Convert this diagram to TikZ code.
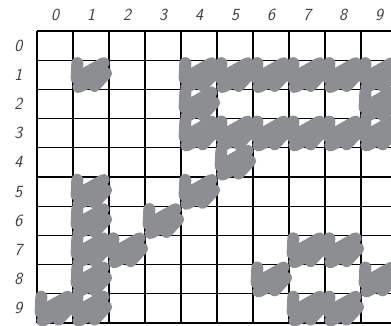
\documentclass[tikz,border=0pt]{standalone}
\usepackage{tikz}

\begin{document}
\begin{tikzpicture}[x=36pt, y=-29.2pt,
  gridline/.style={black, line width=1.3pt},
  scribble/.style={draw={rgb,255:red,141;green,142;blue,145}, line width=12pt, line cap=round, line join=round},
  digit/.style={text=black!75, font=\fontsize{17}{17}\selectfont\sffamily\itshape}]
\path[use as bounding box] (-1.028,-1.062) rectangle (9.833,10.07);
% grid
\draw[gridline] (0,0) -- (0,10);
\draw[gridline] (1,0) -- (1,10);
\draw[gridline] (2,0) -- (2,10);
\draw[gridline] (3,0) -- (3,10);
\draw[gridline] (4,0) -- (4,10);
\draw[gridline] (5,0) -- (5,10);
\draw[gridline] (6,0) -- (6,10);
\draw[gridline] (7,0) -- (7,10);
\draw[gridline] (8,0) -- (8,10);
\draw[gridline] (9,0) -- (9,10);
\draw[gridline] (10,0) -- (10,10);
\draw[gridline] (0,0) -- (10,0);
\draw[gridline] (0,1) -- (10,1);
\draw[gridline] (0,2) -- (10,2);
\draw[gridline] (0,3) -- (10,3);
\draw[gridline] (0,4) -- (10,4);
\draw[gridline] (0,5) -- (10,5);
\draw[gridline] (0,6) -- (10,6);
\draw[gridline] (0,7) -- (10,7);
\draw[gridline] (0,8) -- (10,8);
\draw[gridline] (0,9) -- (10,9);
\draw[gridline] (0,10) -- (10,10);
% filled cells
\draw[scribble, shift={(1,1)}] (0.12,0.1) -- (0.1,0.62) -- (0.85,0.1) -- (0.15,0.92) -- (0.92,0.45) -- (0.6,0.88);
\draw[scribble, shift={(4,1)}] (0.12,0.1) -- (0.1,0.62) -- (0.85,0.1) -- (0.15,0.92) -- (0.92,0.45) -- (0.6,0.88);
\draw[scribble, shift={(5,1)}] (0.12,0.1) -- (0.1,0.62) -- (0.85,0.1) -- (0.15,0.92) -- (0.92,0.45) -- (0.6,0.88);
\draw[scribble, shift={(6,1)}] (0.12,0.1) -- (0.1,0.62) -- (0.85,0.1) -- (0.15,0.92) -- (0.92,0.45) -- (0.6,0.88);
\draw[scribble, shift={(7,1)}] (0.12,0.1) -- (0.1,0.62) -- (0.85,0.1) -- (0.15,0.92) -- (0.92,0.45) -- (0.6,0.88);
\draw[scribble, shift={(8,1)}] (0.12,0.1) -- (0.1,0.62) -- (0.85,0.1) -- (0.15,0.92) -- (0.92,0.45) -- (0.6,0.88);
\draw[scribble, shift={(9,1)}] (0.12,0.1) -- (0.1,0.62) -- (0.85,0.1) -- (0.15,0.92) -- (0.92,0.45) -- (0.6,0.88);
\draw[scribble, shift={(4,2)}] (0.12,0.1) -- (0.1,0.62) -- (0.85,0.1) -- (0.15,0.92) -- (0.92,0.45) -- (0.6,0.88);
\draw[scribble, shift={(9,2)}] (0.12,0.1) -- (0.1,0.62) -- (0.85,0.1) -- (0.15,0.92) -- (0.92,0.45) -- (0.6,0.88);
\draw[scribble, shift={(4,3)}] (0.12,0.1) -- (0.1,0.62) -- (0.85,0.1) -- (0.15,0.92) -- (0.92,0.45) -- (0.6,0.88);
\draw[scribble, shift={(5,3)}] (0.12,0.1) -- (0.1,0.62) -- (0.85,0.1) -- (0.15,0.92) -- (0.92,0.45) -- (0.6,0.88);
\draw[scribble, shift={(6,3)}] (0.12,0.1) -- (0.1,0.62) -- (0.85,0.1) -- (0.15,0.92) -- (0.92,0.45) -- (0.6,0.88);
\draw[scribble, shift={(7,3)}] (0.12,0.1) -- (0.1,0.62) -- (0.85,0.1) -- (0.15,0.92) -- (0.92,0.45) -- (0.6,0.88);
\draw[scribble, shift={(8,3)}] (0.12,0.1) -- (0.1,0.62) -- (0.85,0.1) -- (0.15,0.92) -- (0.92,0.45) -- (0.6,0.88);
\draw[scribble, shift={(9,3)}] (0.12,0.1) -- (0.1,0.62) -- (0.85,0.1) -- (0.15,0.92) -- (0.92,0.45) -- (0.6,0.88);
\draw[scribble, shift={(5,4)}] (0.12,0.1) -- (0.1,0.62) -- (0.85,0.1) -- (0.15,0.92) -- (0.92,0.45) -- (0.6,0.88);
\draw[scribble, shift={(1,5)}] (0.12,0.1) -- (0.1,0.62) -- (0.85,0.1) -- (0.15,0.92) -- (0.92,0.45) -- (0.6,0.88);
\draw[scribble, shift={(4,5)}] (0.12,0.1) -- (0.1,0.62) -- (0.85,0.1) -- (0.15,0.92) -- (0.92,0.45) -- (0.6,0.88);
\draw[scribble, shift={(1,6)}] (0.12,0.1) -- (0.1,0.62) -- (0.85,0.1) -- (0.15,0.92) -- (0.92,0.45) -- (0.6,0.88);
\draw[scribble, shift={(3,6)}] (0.12,0.1) -- (0.1,0.62) -- (0.85,0.1) -- (0.15,0.92) -- (0.92,0.45) -- (0.6,0.88);
\draw[scribble, shift={(1,7)}] (0.12,0.1) -- (0.1,0.62) -- (0.85,0.1) -- (0.15,0.92) -- (0.92,0.45) -- (0.6,0.88);
\draw[scribble, shift={(2,7)}] (0.12,0.1) -- (0.1,0.62) -- (0.85,0.1) -- (0.15,0.92) -- (0.92,0.45) -- (0.6,0.88);
\draw[scribble, shift={(7,7)}] (0.12,0.1) -- (0.1,0.62) -- (0.85,0.1) -- (0.15,0.92) -- (0.92,0.45) -- (0.6,0.88);
\draw[scribble, shift={(8,7)}] (0.12,0.1) -- (0.1,0.62) -- (0.85,0.1) -- (0.15,0.92) -- (0.92,0.45) -- (0.6,0.88);
\draw[scribble, shift={(1,8)}] (0.12,0.1) -- (0.1,0.62) -- (0.85,0.1) -- (0.15,0.92) -- (0.92,0.45) -- (0.6,0.88);
\draw[scribble, shift={(6,8)}] (0.12,0.1) -- (0.1,0.62) -- (0.85,0.1) -- (0.15,0.92) -- (0.92,0.45) -- (0.6,0.88);
\draw[scribble, shift={(9,8)}] (0.12,0.1) -- (0.1,0.62) -- (0.85,0.1) -- (0.15,0.92) -- (0.92,0.45) -- (0.6,0.88);
\draw[scribble, shift={(0,9)}] (0.12,0.1) -- (0.1,0.62) -- (0.85,0.1) -- (0.15,0.92) -- (0.92,0.45) -- (0.6,0.88);
\draw[scribble, shift={(1,9)}] (0.12,0.1) -- (0.1,0.62) -- (0.85,0.1) -- (0.15,0.92) -- (0.92,0.45) -- (0.6,0.88);
\draw[scribble, shift={(7,9)}] (0.12,0.1) -- (0.1,0.62) -- (0.85,0.1) -- (0.15,0.92) -- (0.92,0.45) -- (0.6,0.88);
\draw[scribble, shift={(8,9)}] (0.12,0.1) -- (0.1,0.62) -- (0.85,0.1) -- (0.15,0.92) -- (0.92,0.45) -- (0.6,0.88);
% column numbers
\node[digit] (c0) at (0.5,-0.55) {0};
\node[digit] (c1) at (1.5,-0.55) {1};
\node[digit] (c2) at (2.5,-0.55) {2};
\node[digit] (c3) at (3.5,-0.55) {3};
\node[digit] (c4) at (4.5,-0.55) {4};
\node[digit] (c5) at (5.5,-0.55) {5};
\node[digit] (c6) at (6.5,-0.55) {6};
\node[digit] (c7) at (7.5,-0.55) {7};
\node[digit] (c8) at (8.5,-0.55) {8};
\node[digit] (c9) at (9.5,-0.55) {9};
% row numbers
\node[digit] (r0) at (-0.52,0.5) {0};
\node[digit] (r1) at (-0.52,1.5) {1};
\node[digit] (r2) at (-0.52,2.5) {2};
\node[digit] (r3) at (-0.52,3.5) {3};
\node[digit] (r4) at (-0.52,4.5) {4};
\node[digit] (r5) at (-0.52,5.5) {5};
\node[digit] (r6) at (-0.52,6.5) {6};
\node[digit] (r7) at (-0.52,7.5) {7};
\node[digit] (r8) at (-0.52,8.5) {8};
\node[digit] (r9) at (-0.52,9.5) {9};
\end{tikzpicture}
\end{document}
